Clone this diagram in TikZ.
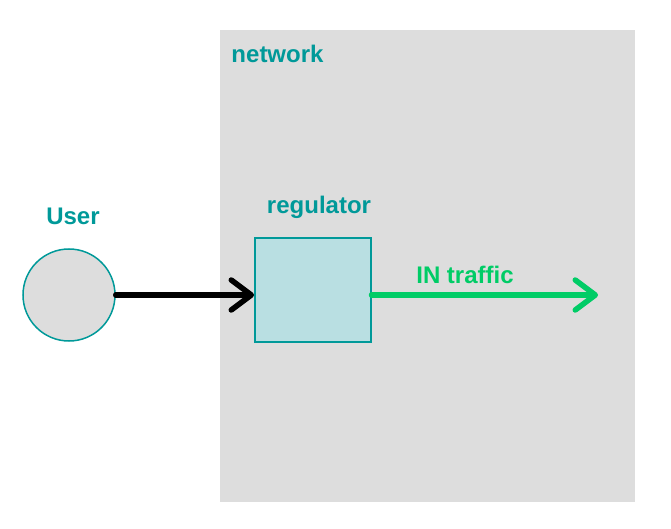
\documentclass[tikz,border=0pt]{standalone}
\usepackage{fontspec}
\setmainfont{Liberation Sans}
\usetikzlibrary{arrows.meta}
\definecolor{teal1}{RGB}{0,153,153}
\definecolor{green1}{RGB}{0,204,102}
\definecolor{bg1}{RGB}{221,221,221}
\definecolor{box1}{RGB}{185,223,226}
\tikzset{
  lbl/.style={text=teal1, font=\fontsize{24}{28}\selectfont\bfseries, anchor=base, inner sep=0pt},
  flow/.style={line width=5.5pt, line cap=round, line join=round, -{Straight Barb[length=20pt,width=30pt,round]}},
}
\begin{document}
\begin{tikzpicture}[x=1pt,y=-1pt]
\useasboundingbox (0,0) rectangle (671,529);
\node[fill=bg1, draw=none, minimum width=415pt, minimum height=472pt, anchor=north west, inner sep=0pt] (net) at (220,30) {};
\node[lbl] (netl) at (277.5,63) {network};
\node[circle, draw=teal1, line width=1.5pt, fill=bg1, minimum size=92pt, inner sep=0pt] (user) at (69,295) {};
\node[lbl] (userl) at (73,225) {User};
\node[draw=teal1, line width=1.5pt, fill=box1, minimum width=116pt, minimum height=104pt, anchor=north west, inner sep=0pt] (reg) at (254,237) {};
\node[lbl] (regl) at (319,214) {regulator};
\coordinate (out) at (598,295);
\draw[flow, black] (user.east) -- (reg.west |- user.east);
\draw[flow, green1] (reg.east |- out) -- (out);
\node[lbl, text=green1] (inl) at (465,283) {IN traffic};
\end{tikzpicture}
\end{document}
